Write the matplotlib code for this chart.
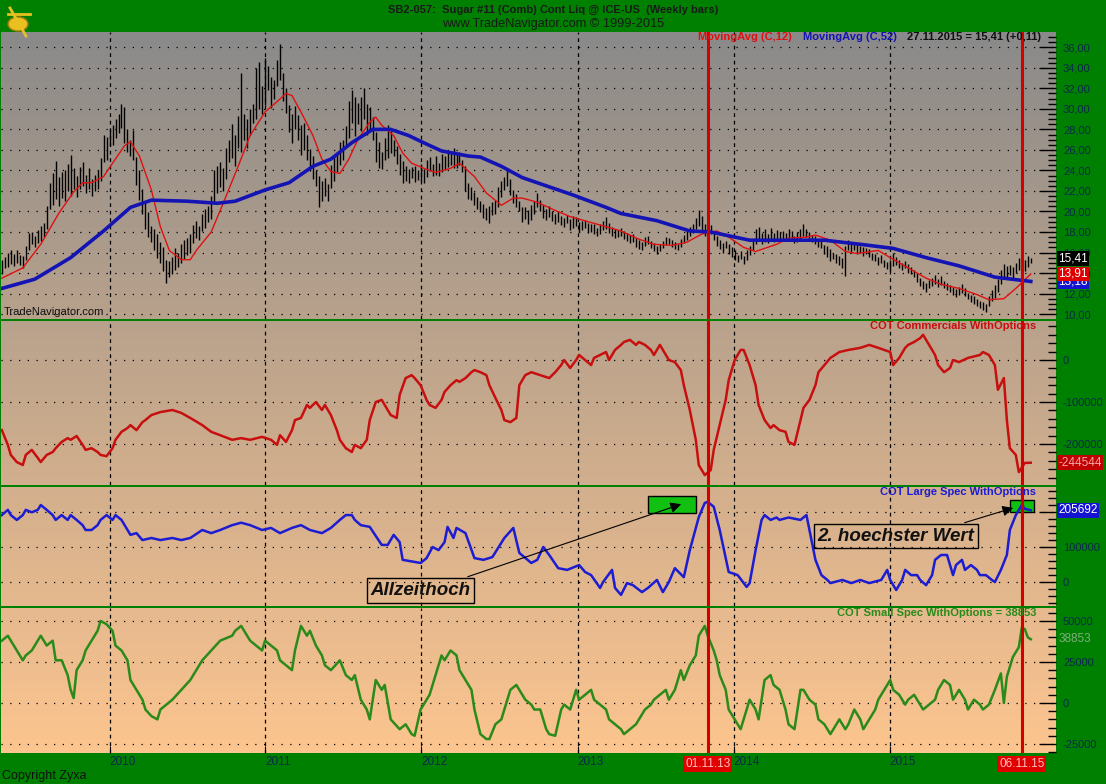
import numpy as np
import pandas as pd
import matplotlib
matplotlib.use("Agg")
import matplotlib.pyplot as plt
from matplotlib.ticker import MultipleLocator, FuncFormatter
from matplotlib.patches import Rectangle, Circle

plt.rcParams['font.family'] = ['Liberation Sans', 'DejaVu Sans']

############## DATA #####################
weeks = pd.date_range('2009-04-24', periods=345, freq='7D')   # weekly bars (Fridays)
years = [2010, 2011, 2012, 2013, 2014, 2015]
marker_dates = ['2013-11-01', '2015-11-06']
last_close = 15.41
last_change = 0.11

bar_low = [
    13.9, 14.5, 14.6, 14.9, 14.7, 15.0, 14.8, 14.5, 15.3, 16.2,
    16.8, 16.5, 16.9, 17.1, 17.5, 18.3, 20.2, 20.6, 21.2, 20.5,
    21.3, 21.0, 22.0, 21.5, 22.2, 21.4, 22.2, 22.5, 21.8, 22.2,
    21.5, 22.0, 22.2, 23.0, 24.8, 25.0, 26.4, 26.5, 27.2, 27.6,
    28.1, 26.7, 25.8, 25.4, 25.0, 22.6, 21.1, 19.8, 18.3, 17.5,
    17.0, 16.2, 15.5, 15.0, 14.2, 13.0, 13.6, 13.9, 14.3, 14.6,
    15.0, 15.4, 15.8, 16.0, 16.9, 17.4, 17.2, 18.1, 18.4, 19.0,
    19.3, 20.8, 21.8, 22.4, 22.0, 23.2, 24.8, 25.2, 24.4, 26.2,
    25.8, 27.0, 26.2, 27.5, 28.6, 29.0, 30.0, 29.5, 30.4, 31.8,
    30.1, 31.0, 32.2, 32.8, 30.8, 29.6, 27.7, 26.7, 28.0, 27.0,
    25.5, 26.0, 25.0, 23.9, 23.2, 22.5, 20.4, 21.0, 21.5, 21.0,
    22.3, 23.0, 23.8, 24.5, 25.0, 26.3, 27.2, 28.6, 27.4, 28.5,
    27.8, 29.0, 27.5, 28.0, 27.0, 24.8, 24.2, 24.1, 25.0, 25.2,
    25.7, 25.4, 24.6, 23.6, 22.8, 23.0, 22.8, 23.3, 22.9, 23.1,
    23.0, 22.8, 23.4, 23.9, 23.5, 23.6, 23.5, 23.8, 24.0, 24.3,
    24.5, 24.2, 24.2, 24.5, 23.8, 22.0, 21.2, 21.1, 20.6, 20.2,
    19.9, 19.4, 19.2, 18.9, 19.7, 19.8, 20.4, 21.4, 22.1, 22.5,
    21.6, 20.8, 20.4, 20.0, 19.0, 19.3, 18.8, 19.2, 19.8, 20.4,
    20.0, 19.4, 19.2, 19.5, 19.1, 18.8, 19.0, 18.7, 18.5, 18.9,
    18.2, 18.4, 18.6, 18.0, 18.2, 18.4, 17.9, 18.0, 17.8, 17.6,
    17.8, 18.2, 18.3, 17.9, 17.6, 17.4, 17.5, 17.6, 17.3, 17.1,
    16.9, 17.0, 16.5, 16.3, 16.2, 16.6, 16.8, 16.4, 16.1, 15.9,
    16.1, 16.4, 16.7, 16.8, 16.5, 16.3, 16.2, 16.5, 16.9, 17.2,
    17.6, 17.9, 18.3, 18.6, 18.2, 17.6, 17.4, 17.8, 17.2, 16.6,
    16.3, 16.0, 16.4, 15.9, 15.6, 15.3, 15.1, 15.4, 14.9, 15.3,
    15.8, 16.2, 16.8, 17.2, 16.8, 17.0, 16.9, 17.3, 17.0, 17.2,
    17.0, 17.3, 17.1, 17.4, 17.2, 16.9, 17.0, 17.3, 17.6, 17.5,
    17.2, 17.0, 16.8, 16.5, 16.4, 15.9, 15.6, 15.2, 15.4, 15.0,
    14.8, 14.5, 13.7, 16.2, 16.0, 16.2, 15.9, 16.0, 15.7, 15.9,
    15.6, 15.3, 15.2, 14.8, 15.0, 14.6, 14.4, 14.2, 14.7, 14.8,
    14.5, 14.3, 14.5, 14.0, 13.9, 13.6, 13.1, 12.7, 12.4, 12.2,
    12.5, 12.7, 12.9, 12.6, 12.8, 12.5, 12.3, 12.2, 11.9, 11.7,
    11.9, 12.1, 11.8, 11.5, 11.2, 11.0, 10.8, 10.6, 10.4, 10.2,
    10.8, 11.3, 11.6, 12.2, 12.9, 13.5, 13.6, 13.8, 13.4, 14.0,
    14.3, 13.9, 14.2, 14.6, 15.0,
]
bar_high = [
    15.3, 15.6, 16.0, 16.2, 15.9, 16.2, 15.8, 15.7, 16.6, 17.9,
    18.0, 17.6, 18.2, 18.6, 18.9, 20.5, 22.8, 23.7, 24.9, 23.4,
    23.8, 24.0, 24.6, 25.5, 24.2, 23.5, 24.3, 24.8, 23.6, 24.2,
    23.2, 23.6, 24.0, 25.2, 27.5, 27.3, 28.0, 28.4, 29.0, 29.5,
    30.5, 30.2, 28.0, 27.0, 27.9, 25.3, 24.0, 22.2, 20.8, 19.9,
    18.6, 18.3, 17.8, 17.0, 16.5, 15.3, 15.2, 15.6, 16.4, 16.0,
    16.8, 17.2, 17.4, 17.8, 18.7, 19.1, 18.6, 19.8, 20.2, 20.5,
    21.5, 24.0, 24.4, 24.8, 24.2, 26.2, 27.0, 28.5, 27.5, 29.3,
    33.5, 29.5, 29.0, 30.0, 30.5, 34.0, 34.6, 32.2, 35.0, 34.2,
    33.1, 32.8, 34.8, 36.3, 33.5, 32.0, 30.4, 29.5, 30.3, 29.4,
    28.4, 28.6, 27.5, 26.1, 25.4, 24.0, 23.5, 23.0, 23.3, 22.7,
    24.5, 25.4, 25.6, 26.8, 27.0, 28.3, 30.8, 31.8, 31.2, 30.6,
    31.2, 32.0, 30.5, 30.2, 29.2, 27.7, 26.8, 25.8, 27.2, 28.4,
    27.8, 27.0, 26.4, 25.6, 24.9, 24.4, 24.1, 24.3, 24.4, 24.0,
    24.6, 24.1, 25.0, 25.3, 24.6, 25.4, 24.7, 25.6, 25.4, 25.9,
    25.8, 26.2, 25.6, 25.8, 25.0, 24.4, 22.8, 22.4, 21.9, 21.4,
    21.0, 20.7, 20.3, 20.5, 20.9, 21.1, 22.4, 23.0, 23.4, 24.1,
    23.2, 22.1, 21.7, 21.0, 20.4, 20.4, 20.1, 20.6, 21.0, 21.8,
    21.1, 20.6, 20.2, 20.5, 20.0, 19.8, 20.0, 19.6, 19.4, 19.7,
    19.3, 19.6, 19.5, 19.0, 19.1, 19.2, 18.9, 18.8, 18.8, 18.4,
    18.8, 19.1, 19.5, 18.9, 18.5, 18.3, 18.2, 18.4, 18.1, 17.9,
    17.7, 17.8, 17.4, 17.2, 17.0, 17.5, 17.6, 17.1, 16.9, 16.6,
    16.8, 17.1, 17.5, 17.4, 17.2, 17.0, 16.8, 17.3, 17.7, 18.3,
    18.5, 18.8, 19.4, 20.1, 19.6, 18.8, 18.5, 18.7, 18.0, 17.6,
    17.2, 16.9, 17.1, 16.8, 16.5, 16.2, 15.8, 16.1, 15.7, 16.2,
    16.6, 17.1, 18.3, 18.5, 17.9, 18.3, 17.8, 18.4, 17.9, 18.2,
    18.0, 18.1, 17.9, 18.3, 18.1, 17.6, 18.0, 18.3, 18.8, 18.3,
    18.0, 17.7, 17.6, 17.3, 17.2, 16.7, 16.6, 16.3, 16.0, 15.9,
    15.7, 15.5, 16.6, 17.2, 17.0, 17.0, 16.9, 16.6, 16.5, 16.4,
    16.3, 16.0, 15.9, 15.6, 15.8, 15.3, 15.1, 15.3, 16.0, 15.6,
    15.3, 15.0, 15.2, 14.9, 14.6, 14.3, 14.0, 13.5, 13.2, 13.0,
    13.3, 13.5, 13.8, 13.4, 13.7, 13.2, 13.0, 12.8, 12.6, 12.4,
    12.6, 12.9, 12.5, 12.1, 11.9, 11.8, 11.5, 11.3, 11.2, 11.0,
    11.8, 12.3, 12.8, 13.4, 14.3, 14.9, 14.7, 14.8, 14.6, 15.0,
    15.5, 15.0, 15.3, 15.7, 15.5,
]

# moving averages: (week number, value)
ma12_pts = [
    (0, 13.5), (7, 14.5), (13, 16.8), (19, 19.8), (24, 21.9), (27, 22.8), (30, 22.8),
    (34, 23.4), (37, 24.7), (41, 26.4), (43, 26.8), (46, 25.4), (50, 22.1), (53, 18.5),
    (56, 16.2), (60, 15.3), (63, 15.3), (65, 16.2), (70, 18.0), (74, 20.8), (79, 24.4),
    (83, 27.4), (88, 29.7), (92, 30.7), (95, 31.5), (97, 31.3), (100, 29.7), (104, 27.4),
    (107, 25.1), (110, 23.9), (113, 23.7), (116, 25.1), (119, 27.0), (123, 28.7),
    (125, 29.2), (127, 28.4), (131, 27.4), (134, 25.7), (137, 24.7), (142, 24.1),
    (145, 23.8), (150, 24.2), (153, 24.7), (158, 23.4), (162, 21.8), (167, 20.6),
    (171, 21.3), (174, 21.3), (179, 20.9), (185, 20.1), (190, 19.5), (196, 19.0),
    (201, 18.6), (207, 18.1), (213, 17.3), (218, 16.8), (224, 16.7), (229, 17.0),
    (234, 17.8), (239, 18.1), (243, 17.5), (248, 16.5), (252, 16.1), (259, 16.8),
    (263, 17.4), (269, 17.5), (272, 17.7), (277, 17.2), (282, 16.1), (286, 15.9),
    (293, 16.2), (297, 15.5), (303, 14.5), (309, 13.5), (314, 12.9), (320, 12.5),
    (326, 11.9), (330, 11.4), (335, 11.5), (339, 12.5), (344, 13.91),
]
ma52_pts = [
    (0, 12.5), (11, 13.4), (23, 15.5), (34, 18.1), (43, 20.4), (50, 21.1), (62, 21.0),
    (72, 20.8), (78, 21.0), (88, 22.1), (96, 22.8), (104, 24.4), (110, 25.1), (117, 26.7),
    (124, 28.0), (130, 28.0), (136, 27.4), (141, 26.7), (147, 25.9), (156, 25.4),
    (160, 25.3), (167, 24.4), (174, 23.3), (179, 22.8), (191, 21.6), (202, 20.4),
    (207, 19.8), (219, 19.1), (230, 18.1), (237, 18.0), (250, 17.2), (264, 17.2),
    (275, 17.2), (287, 16.8), (298, 16.4), (309, 15.5), (320, 14.7), (332, 13.6),
    (344, 13.18),
]

# COT net positions in thousands of contracts: (week number, value)
comm_pts = [
    (0, -167), (2, -202), (3, -226), (5, -243), (7, -250), (8, -226), (10, -214), (12, -233),
    (13, -243), (15, -226), (17, -219), (18, -210), (20, -195), (22, -186), (23, -190),
    (25, -181), (27, -202), (28, -214), (30, -210), (32, -219), (33, -226), (35, -229),
    (37, -210), (38, -190), (40, -171), (42, -162), (43, -155), (45, -167), (47, -148),
    (48, -143), (50, -131), (53, -124), (57, -119), (60, -126), (63, -138), (67, -155),
    (70, -171), (73, -179), (77, -190), (80, -186), (83, -190), (87, -183), (90, -190),
    (92, -202), (93, -179), (95, -195), (97, -167), (98, -143), (100, -138), (102, -107),
    (103, -114), (105, -100), (107, -119), (108, -107), (110, -131), (112, -167),
    (113, -190), (115, -210), (117, -219), (118, -202), (120, -210), (122, -190),
    (123, -143), (125, -100), (127, -95), (128, -107), (130, -131), (132, -138),
    (133, -83), (135, -43), (137, -36), (138, -43), (140, -60), (142, -95), (143, -107),
    (145, -114), (147, -95), (148, -76), (150, -60), (152, -48), (153, -52), (155, -43),
    (157, -29), (158, -24), (160, -29), (162, -36), (163, -60), (165, -90), (167, -119),
    (168, -143), (170, -148), (172, -138), (173, -60), (175, -36), (177, -29), (180, -36),
    (183, -43), (185, -29), (187, -12), (188, 0), (190, -19), (192, 0), (193, 12),
    (195, 0), (197, -12), (198, 5), (200, 12), (202, 19), (203, 0), (205, 24), (207, 36),
    (208, 43), (210, 48), (212, 36), (213, 43), (215, 36), (217, 24), (218, 12), (220, 36),
    (222, 12), (223, 0), (225, -5), (227, -24), (228, -60), (230, -119), (232, -190),
    (233, -250), (235, -274), (237, -262), (238, -214), (240, -155), (242, -95),
    (243, -48), (245, 0), (247, 24), (248, 24), (250, -12), (252, -60), (253, -107),
    (255, -143), (257, -162), (258, -155), (260, -167), (262, -171), (263, -195),
    (265, -202), (267, -143), (268, -114), (270, -95), (272, -60), (273, -29), (275, -12),
    (277, 5), (280, 19), (283, 24), (287, 29), (290, 36), (293, 29), (297, 19),
    (298, -12), (300, 5), (302, 29), (303, 36), (305, 43), (307, 52), (308, 60),
    (310, 36), (312, 12), (313, -12), (315, -29), (317, -19), (318, 0), (320, -5),
    (323, 5), (327, 12), (328, 19), (330, 12), (332, -12), (333, -71), (335, -43),
    (336, -143), (337, -210), (339, -226), (340, -267), (342, -245), (344, -244.544),
]
large_pts = [
    (0, 192), (2, 207), (3, 192), (5, 178), (7, 192), (8, 207), (10, 200), (12, 207),
    (13, 221), (15, 207), (17, 192), (18, 178), (20, 192), (22, 178), (23, 192), (25, 178),
    (27, 163), (28, 149), (30, 149), (32, 163), (33, 178), (35, 192), (37, 178), (38, 192),
    (40, 178), (42, 149), (43, 135), (45, 140), (47, 120), (50, 126), (53, 120), (57, 126),
    (60, 120), (63, 126), (67, 149), (70, 140), (73, 149), (77, 163), (80, 170), (83, 163),
    (87, 149), (90, 155), (93, 140), (97, 155), (100, 163), (103, 149), (107, 140),
    (110, 155), (113, 178), (115, 192), (117, 192), (118, 178), (120, 163), (123, 158),
    (127, 106), (129, 106), (131, 135), (133, 114), (134, 63), (138, 57), (140, 54),
    (142, 68), (144, 100), (146, 91), (148, 114), (149, 158), (151, 126), (152, 155),
    (155, 140), (158, 68), (161, 63), (164, 71), (168, 126), (171, 155), (173, 83),
    (177, 54), (179, 63), (181, 100), (183, 77), (186, 39), (189, 34), (193, 48), (195, 28),
    (197, 19), (200, -18), (201, -1), (204, 34), (205, -18), (207, -38), (209, -4),
    (211, -10), (214, -30), (216, -18), (219, 5), (221, -30), (223, -1), (225, 39),
    (228, 13), (230, 91), (233, 186), (235, 227), (236, 230), (238, 216), (240, 149),
    (243, 28), (246, 19), (249, -15), (250, -4), (252, 91), (254, 178), (255, 192),
    (257, 178), (259, 185), (260, 178), (263, 185), (267, 178), (269, 192), (270, 149),
    (272, 63), (274, 19), (276, 5), (277, -4), (281, 5), (284, -4), (287, 5), (290, -4),
    (294, 5), (296, 34), (297, 5), (299, -24), (301, 5), (302, 34), (304, 19), (306, 19),
    (307, 5), (309, -10), (311, 19), (312, 63), (314, 77), (316, 77), (318, 19), (319, 48),
    (321, 63), (322, 34), (324, 48), (326, 34), (327, 19), (329, 19), (331, 5), (332, -1),
    (334, 34), (336, 77), (337, 149), (339, 192), (341, 221), (342, 210), (344, 205.692),
]
small_pts = [
    (0, 38), (2, 41), (3, 38), (5, 32), (7, 26), (8, 29), (10, 32), (12, 38), (13, 41),
    (15, 35), (17, 38), (18, 26), (20, 26), (22, 17), (23, 8), (24, 3), (25, 20), (27, 26),
    (28, 32), (30, 38), (32, 44), (33, 50), (35, 48), (37, 44), (38, 35), (40, 32),
    (42, 26), (43, 14), (45, 8), (47, 2), (48, -4), (50, -8), (52, -10), (53, -4), (57, 2),
    (60, 8), (63, 14), (65, 20), (67, 26), (70, 32), (73, 38), (77, 41), (78, 44), (80, 47),
    (82, 41), (83, 38), (87, 32), (88, 38), (90, 35), (92, 32), (93, 26), (95, 23),
    (97, 20), (98, 32), (100, 47), (102, 41), (103, 44), (105, 35), (107, 29), (108, 23),
    (110, 20), (113, 26), (115, 17), (117, 14), (118, 17), (120, 2), (122, -4), (123, -10),
    (125, 14), (127, 8), (128, 11), (130, -10), (133, -16), (135, -13), (137, -19),
    (138, -20), (140, -4), (142, 2), (143, 5), (147, 29), (148, 26), (150, 32), (152, 29),
    (153, 20), (155, 14), (157, 8), (158, -4), (160, -19), (162, -22), (163, -22),
    (165, -13), (167, -10), (168, -4), (170, 8), (172, 11), (173, 8), (175, 2), (177, -1),
    (178, -4), (180, -4), (182, -16), (183, -19), (185, -20), (187, -4), (188, -1),
    (190, -4), (192, 8), (193, 2), (195, 5), (197, 8), (198, 2), (200, -1), (202, -4),
    (203, -10), (205, -13), (207, -16), (208, -19), (210, -16), (212, -13), (213, -10),
    (215, -4), (217, -1), (218, 2), (220, 5), (222, 8), (223, 2), (225, 8), (227, 20),
    (228, 14), (230, 23), (232, 29), (233, 41), (235, 47), (236, 41), (238, 32), (239, 26),
    (240, 17), (242, 8), (243, -4), (245, -10), (247, -16), (248, -10), (250, 2),
    (252, -4), (253, -10), (255, 14), (257, 17), (258, 11), (260, 8), (262, -4),
    (263, -13), (265, -16), (267, 8), (268, 8), (270, 2), (272, -1), (273, -10), (275, -13),
    (277, -19), (278, -16), (280, -10), (282, -16), (283, -13), (285, -4), (287, -10),
    (288, -16), (290, -10), (292, -4), (293, 2), (295, 8), (297, 14), (298, 8), (300, 5),
    (302, -1), (303, 2), (305, 5), (307, -1), (308, -4), (310, -1), (312, 2), (313, 8),
    (315, 14), (317, 11), (318, 2), (320, 8), (322, 2), (323, -4), (325, 2), (327, -1),
    (328, -4), (330, -1), (332, 8), (334, 18), (335, 0), (336, 16), (338, 28), (340, 34),
    (341, 46), (342, 45), (343, 40), (344, 38.853),
]

############## STYLE #####################
W, H = 1106, 784
BG_GREEN = '#008000'
NAVY = '#0b2a4a'
GRAD_TOP = np.array([138, 138, 138]) / 255
GRAD_BOT = np.array([253, 197, 143]) / 255
Y0, Y1 = 32, 753            # pixel span of the gradient
XLIM = (pd.Timestamp('2009-04-22'), pd.Timestamp('2016-01-25'))


def fx(px):
    return px / W


def fy(py):
    return 1 - py / H


def make_panel(top, bottom):
    rect = [fx(1), 1 - bottom / H, 1055 / W, (bottom - top) / H]
    bg = fig.add_axes(rect, zorder=0)
    t = np.linspace((top - Y0) / (Y1 - Y0), (bottom - Y0) / (Y1 - Y0), 200)
    img = GRAD_TOP + (GRAD_BOT - GRAD_TOP) * t[:, None]
    bg.imshow(img[:, None, :], aspect='auto', extent=[0, 1, 0, 1])
    bg.axis('off')
    ax = fig.add_axes(rect, zorder=1)
    ax.set_facecolor('none')
    for s in ax.spines.values():
        s.set_visible(False)
    ax.set_xlim(*XLIM)
    ax.yaxis.tick_right()
    ax.tick_params(axis='y', which='major', direction='in', length=12, width=1,
                   color='black', labelcolor=NAVY, labelsize=8, pad=5)
    ax.tick_params(axis='y', which='minor', direction='in', length=6, width=1,
                   color='black')
    ax.tick_params(axis='x', bottom=False, labelbottom=False)
    for yr in years:
        ax.axvline(pd.Timestamp(f'{yr}-01-01'), color='black', lw=0.9,
                   linestyle=(0, (3, 3)), zorder=1)
    for d in marker_dates:
        ax.axvline(pd.Timestamp(d), color='#d40000', lw=2.2, zorder=6)
    return ax


def hgrid(ax, levels):
    for v in levels:
        ax.axhline(v, color='black', lw=0.9, linestyle=(0, (1, 6)), zorder=1)


def tag(ax, value, text, fc, tc, z):
    ax.annotate(text, xy=(1, value), xycoords=('axes fraction', 'data'),
                xytext=(1.5, 0), textcoords='offset points', ha='left', va='center',
                fontsize=8.5, color=tc, zorder=z, annotation_clip=False,
                bbox=dict(boxstyle='square,pad=0.12', fc=fc, ec='none'))


def comma2(v):
    return f'{v:.2f}'.replace('.', ',')


fig = plt.figure(figsize=(W / 100, H / 100), dpi=100, facecolor=BG_GREEN)

############## PRICE #####################
ax1 = make_panel(32, 319)
ax1.vlines(weeks, bar_low, bar_high, color='black', lw=1, zorder=3)
w12, v12 = zip(*ma12_pts)
w52, v52 = zip(*ma52_pts)
ax1.plot(weeks[list(w12)], v12, color='#e01010', lw=1, zorder=4)
ax1.plot(weeks[list(w52)], v52, color='#1414b4', lw=2.6, zorder=4)
ax1.set_ylim(9.52, 37.49)
ax1.yaxis.set_major_locator(MultipleLocator(2))
ax1.yaxis.set_minor_locator(MultipleLocator(0.5))
ax1.yaxis.set_major_formatter(FuncFormatter(lambda v, p: comma2(v)))
hgrid(ax1, range(10, 37, 2))
tag(ax1, v52[-1], comma2(v52[-1]), '#1414d0', 'white', 10)
tag(ax1, v12[-1], comma2(v12[-1]), '#e00000', 'white', 11)
tag(ax1, last_close, comma2(last_close), 'black', 'white', 12)

############## COT PANELS #####################
int_fmt = FuncFormatter(lambda v, p: f'{int(round(v))}')

ax2 = make_panel(321, 485)
cw, cv = zip(*comm_pts)
ax2.plot(weeks[list(cw)], np.array(cv) * 1000, color='#c80f0f', lw=1.8, zorder=4)
ax2.set_ylim(-297600, 92900)
ax2.yaxis.set_major_locator(MultipleLocator(100000))
ax2.yaxis.set_minor_locator(MultipleLocator(20000))
ax2.yaxis.set_major_formatter(int_fmt)
hgrid(ax2, [-200000, -100000, 0])
tag(ax2, cv[-1] * 1000, f'{round(cv[-1] * 1000)}', '#c00000', '#f4a8a8', 10)

ax3 = make_panel(487, 606)
lw_, lv = zip(*large_pts)
ax3.plot(weeks[list(lw_)], np.array(lv) * 1000, color='#1c1cd2', lw=1.8, zorder=4)
ax3.set_ylim(-70000, 272900)
ax3.yaxis.set_major_locator(MultipleLocator(100000))
ax3.yaxis.set_minor_locator(MultipleLocator(20000))
ax3.yaxis.set_major_formatter(int_fmt)
hgrid(ax3, [0, 100000, 200000])
tag(ax3, lv[-1] * 1000, f'{round(lv[-1] * 1000)}', '#1414d0', 'white', 10)

ax4 = make_panel(608, 753)
sw, sv = zip(*small_pts)
ax4.plot(weeks[list(sw)], np.array(sv) * 1000, color='#2a8a1a', lw=1.8, zorder=4)
ax4.set_ylim(-30500, 57900)
ax4.yaxis.set_major_locator(MultipleLocator(25000))
ax4.yaxis.set_minor_locator(MultipleLocator(5000))
ax4.yaxis.set_major_formatter(int_fmt)
hgrid(ax4, [-25000, 0, 25000, 50000])
ax4.annotate(f'{round(sv[-1] * 1000)}', xy=(1, sv[-1] * 1000),
             xycoords=('axes fraction', 'data'), xytext=(1.5, 0),
             textcoords='offset points', ha='left', va='center', fontsize=8.5,
             color='#7fae7f', annotation_clip=False)
ax4.tick_params(axis='x', bottom=True, labelbottom=True, direction='in', length=5,
                color='black', labelcolor=NAVY, labelsize=8.5, pad=2)
ax4.set_xticks([pd.Timestamp(f'{yr}-01-01') for yr in years])
ax4.set_xticklabels([str(yr) for yr in years], ha='left')

############## ANNOTATIONS #####################
ann_font = dict(fontsize=13.5, fontweight='bold', style='italic', color='#111111')
for start, end, lo, hi in [('2013-06-14', '2013-10-04', 198000, 247000),
                           ('2015-10-09', '2015-12-04', 201000, 235000)]:
    x0 = matplotlib.dates.date2num(pd.Timestamp(start))
    x1 = matplotlib.dates.date2num(pd.Timestamp(end))
    ax3.add_patch(Rectangle((x0, lo), x1 - x0, hi - lo, fc='#12c012', ec='black',
                            lw=1, zorder=3))

ax3.annotate('Allzeithoch', xy=(weeks[228], 226000), xytext=(weeks[140], -25000),
             ha='center', va='center', zorder=8, **ann_font,
             bbox=dict(boxstyle='square,pad=0.2', fc='none', ec='black', lw=1),
             arrowprops=dict(arrowstyle='-|>', color='black', lw=0.8,
                             mutation_scale=16, relpos=(0.82, 1.0)))
ax3.annotate('2. hoechster Wert', xy=(weeks[339], 215000), xytext=(weeks[299], 131000),
             ha='center', va='center', zorder=8, **ann_font,
             bbox=dict(boxstyle='square,pad=0.2', fc='none', ec='black', lw=1),
             arrowprops=dict(arrowstyle='-|>', color='black', lw=0.8,
                             mutation_scale=16, relpos=(0.83, 1.0)))

############## TEXTS #####################
# small gold sextant emblem, top left
fig.add_artist(Circle((fx(18), fy(24)), 0.009, transform=fig.transFigure,
                      fc='#e8c020', ec='#a07810', lw=1))
fig.add_artist(plt.Line2D([fx(10), fx(26)], [fy(8), fy(36)], transform=fig.transFigure,
                          color='#e8c020', lw=2))
fig.add_artist(plt.Line2D([fx(8), fx(30)], [fy(14), fy(14)], transform=fig.transFigure,
                          color='#e8c020', lw=2))

fig.text(fx(553), fy(10), 'SB2-057:  Sugar #11 (Comb) Cont Liq @ ICE-US  (Weekly bars)',
         ha='center', va='center', fontsize=8, fontweight='bold', color='#1a1a1a')
fig.text(fx(553), fy(24), 'www.TradeNavigator.com \u00a9 1999-2015', ha='center',
         va='center', fontsize=9.2, color='#1a1a1a')

top_font = dict(fontsize=8, fontweight='bold', va='center')
fig.text(fx(698), fy(37), 'MovingAvg (C,12)', color='#e01010', **top_font)
fig.text(fx(803), fy(37), 'MovingAvg (C,52)', color='#1414b4', **top_font)
fig.text(fx(907), fy(37),
         f"{weeks[-1].strftime('%d.%m.%Y')} = {comma2(last_close)} (+{comma2(last_change)})",
         color='#111111', **top_font)
fig.text(fx(4), fy(312), 'TradeNavigator.com', fontsize=8, va='center', color='#111111')
fig.text(fx(1036), fy(326), 'COT Commercials WithOptions', ha='right', color='#c80f0f',
         **top_font)
fig.text(fx(1036), fy(492), 'COT Large Spec WithOptions', ha='right', color='#1c1cd2',
         **top_font)
fig.text(fx(1036), fy(613), f'COT Small Spec WithOptions = {round(sv[-1] * 1000)}',
         ha='right', color='#2a8a1a', **top_font)

for d in marker_dates:
    ts = pd.Timestamp(d)
    ax4.annotate(ts.strftime('%d.%m.%y'), xy=(ts, 0), xycoords=('data', 'axes fraction'),
                 xytext=(0, -8), textcoords='offset points', ha='center', va='center',
                 fontsize=8.5, color='#ffc0c0', annotation_clip=False, zorder=10,
                 bbox=dict(boxstyle='square,pad=0.15', fc='#e00000', ec='none'))

fig.text(fx(2), fy(776), 'Copyright Zyxa', fontsize=9, va='center', color='#111111')

plt.savefig('out.png', dpi=100, facecolor=BG_GREEN)
